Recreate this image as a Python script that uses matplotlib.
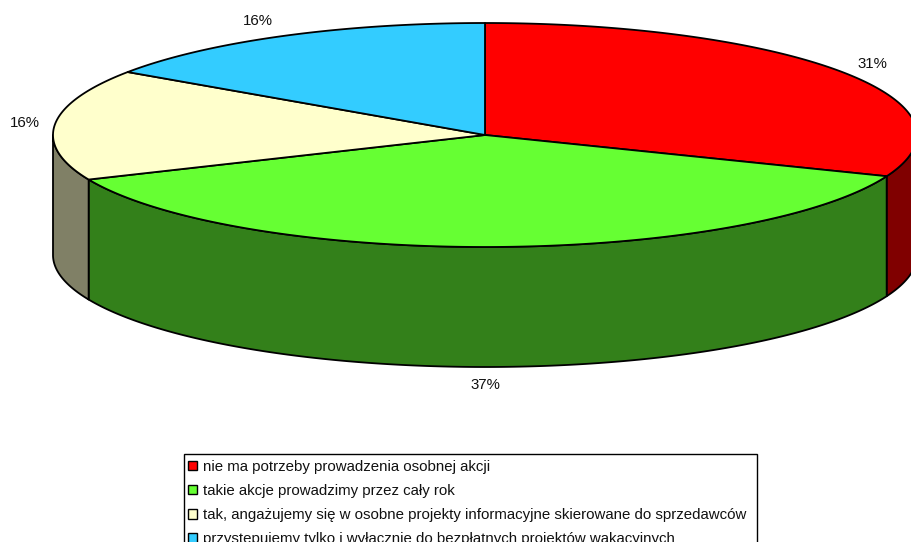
import numpy as np
import matplotlib
matplotlib.use("Agg")
import matplotlib.pyplot as plt
from matplotlib.patches import Polygon, Rectangle

categories = ["nie ma potrzeby prowadzenia osobnej akcji",
              "takie akcje prowadzimy przez cały rok",
              "tak, angażujemy się w osobne projekty informacyjne skierowane do sprzedawców",
              "przystępujemy tylko i wyłącznie do bezpłatnych projektów wakacyjnych"]
values = [31.0, 37.49, 16.01, 15.5]
pct_labels = ["31%", "37%", "16%", "16%"]
top_colors = ["#FF0000", "#66FF33", "#FFFFCC", "#33CCFF"]
side_colors = ["#800000", "#33801A", "#808066", "#1A6680"]

plt.rcParams["font.family"] = ["Liberation Sans", "DejaVu Sans"]
W, H = 911, 542
fig = plt.figure(figsize=(W / 100, H / 100), dpi=100, facecolor="white")
ax = fig.add_axes([0, 0, 1, 1])
ax.set_xlim(0, W)
ax.set_ylim(H, 0)
ax.axis("off")

cx, cy, rx, ry, depth = 485, 135, 432, 112, 120
LW = 1.3
FS = 10.84


def pt(theta):
    # theta clockwise from 12 o'clock, in radians
    return cx + rx * np.sin(theta), cy - ry * np.cos(theta)


fractions = np.array(values) / np.sum(values)
edges = np.concatenate([[0], np.cumsum(fractions)]) * 2 * np.pi

# sides (only the front half, theta between 90 and 270 degrees, is visible)
for i in range(len(values)):
    a = max(edges[i], np.pi / 2)
    b = min(edges[i + 1], 3 * np.pi / 2)
    if b <= a:
        continue
    t = np.linspace(a, b, 200)
    x, y = pt(t)
    poly = np.vstack([np.c_[x, y], np.c_[x[::-1], y[::-1] + depth]])
    ax.add_patch(Polygon(poly, closed=True, facecolor=side_colors[i],
                         edgecolor="black", linewidth=LW, joinstyle="round", zorder=2))

# top slices
for i in range(len(values)):
    t = np.linspace(edges[i], edges[i + 1], 300)
    x, y = pt(t)
    poly = np.vstack([[cx, cy], np.c_[x, y]])
    ax.add_patch(Polygon(poly, closed=True, facecolor=top_colors[i],
                         edgecolor="black", linewidth=LW, joinstyle="round", zorder=3))

# percentage labels
label_pos = [(872, 64), (485, 385), (25, 123), (258, 21)]
for s, (lx, ly) in zip(pct_labels, label_pos):
    ax.text(lx, ly, s, ha="center", va="center", fontsize=FS, color="#111111")

# legend frame runs off the bottom of the picture, as in the reference
ax.add_patch(Rectangle((184, 454), 573, 120, facecolor="white", edgecolor="black",
                       linewidth=1.0, zorder=4))
handles = [Rectangle((0, 0), 1, 1, facecolor=c, edgecolor="black", linewidth=1.0) for c in top_colors]
leg = ax.legend(handles, categories, loc="upper left", bbox_to_anchor=(184, 456),
                bbox_transform=ax.transData, fontsize=FS, frameon=False,
                borderaxespad=0, borderpad=0.25, labelspacing=0.68,
                handlelength=0.6, handleheight=0.6, handletextpad=0.4,
                labelcolor="#111111")
leg.set_zorder(5)

fig.savefig("out.png", dpi=100, facecolor="white")
